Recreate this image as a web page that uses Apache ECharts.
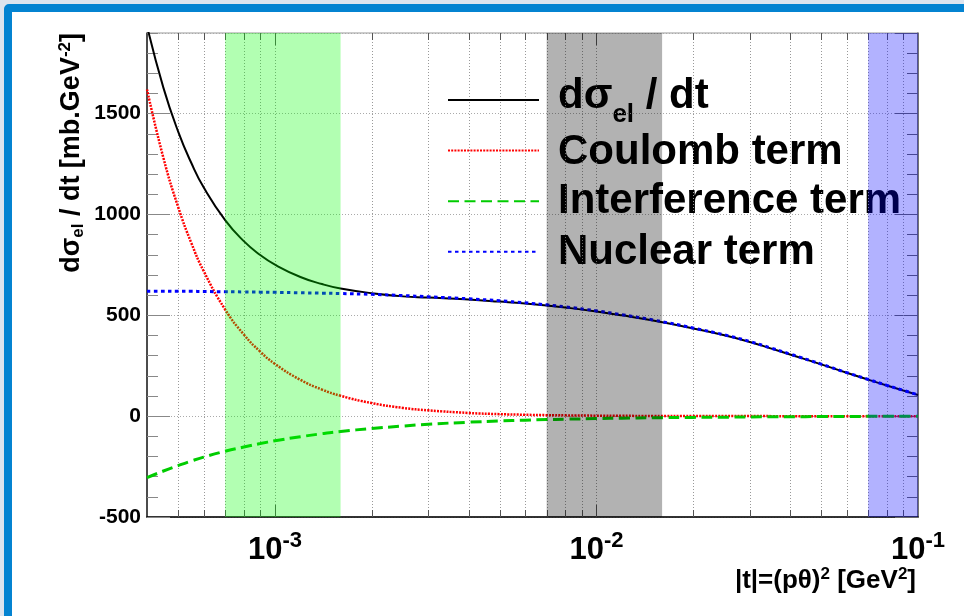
<!DOCTYPE html>
<html><head><meta charset="utf-8">
<script src="https://cdn.jsdelivr.net/npm/echarts@6/dist/echarts.min.js"></script>
<style>
html,body{margin:0;padding:0;width:964px;height:616px;overflow:hidden;background:#dde4ee;}
#frame{position:absolute;left:4px;top:4px;width:990px;height:640px;box-sizing:border-box;border:8px solid #0483d1;border-radius:5px;background:#fff;}
#chart{position:absolute;left:0;top:0;width:964px;height:616px;}
</style></head><body>
<div id="frame"></div><div id="chart"></div>
<script>
// |t| values (GeV^2)
const tValues = [4e-4, 4.5e-4, 5e-4, 5.5e-4, 6e-4, 7e-4, 8e-4, 9e-4, 1e-3, 1.2e-3, 1.4e-3, 1.6e-3,
  2e-3, 2.5e-3, 3e-3, 4e-3, 5e-3, 6e-3, 7e-3, 8e-3, 1e-2, 1.2e-2, 1.5e-2, 2e-2, 2.5e-2, 3e-2,
  3.5e-2, 4e-2, 5e-2, 6e-2, 7e-2, 8e-2, 9e-2, 1e-1];
const totalValues = [1935, 1628, 1411, 1254, 1135, 972, 868, 799, 751, 690, 655, 633,
  610, 594, 588, 578, 568, 559, 549, 539, 519, 500, 474, 435, 401, 368,
  335, 306, 257, 215, 181, 152, 127, 105];
const coulombValues = [1620, 1280, 1037, 857, 720, 529, 405, 320, 259, 180, 132, 101,
  65, 41, 29, 16, 10, 7, 5, 4, 2.5, 1.7, 1.1, 0.6, 0.4, 0.3,
  0.2, 0.1, 0.1, 0, 0, 0, 0, 0];
const interferenceValues = [-305, -272, -245, -222, -203, -174, -153, -136, -122, -102, -87, -76,
  -61, -49, -40, -30, -24, -20, -17, -15, -12, -10, -8, -6, -5, -4,
  -3, -3, -2, -2, -1, -1, -1, -1];
const nuclearValues = [620, 620, 619, 619, 618, 617, 616, 615, 614, 612, 610, 608,
  604, 598, 592, 582, 572, 562, 552, 542, 522, 503, 477, 437, 403, 370,
  337, 308, 258, 216, 182, 153, 128, 106];
const seriesNames = ['dσel / dt', 'Coulomb term', 'Interference term', 'Nuclear term'];
// legend label pieces: [text, kind] kind: 'n' normal, 'sub', 'sup'
const legendLabels = [
  [['dσ', 'n'], ['el', 'sub'], [' / dt', 'n']],
  [['Coulomb term', 'n']],
  [['Interference term', 'n']],
  [['Nuclear term', 'n']]
];
const yTitlePieces = [['dσ', 'n'], ['el', 'sub'], [' / dt [mb.GeV', 'n'], ['-2', 'sup'], [']', 'n']];
const xTitlePieces = [['|t|=(pθ)', 'n'], ['2', 'sup'], [' [GeV', 'n'], ['2', 'sup'], [']', 'n']];
const seriesColors = ['#000000', '#ff0000', '#00cc00', '#0000ff'];
// x tick positions (log axis, every 1..9 x decade)
const xTickValues = [5e-4, 6e-4, 7e-4, 8e-4, 9e-4, 1e-3, 2e-3, 3e-3, 4e-3, 5e-3, 6e-3, 7e-3, 8e-3, 9e-3,
  1e-2, 2e-2, 3e-2, 4e-2, 5e-2, 6e-2, 7e-2, 8e-2, 9e-2];
const bandRanges = [[7e-4, 1.6e-3], [7e-3, 1.6e-2], [7e-2, 1.6e-1]];
const bandColors = ['rgba(0,255,0,0.3)', 'rgba(0,0,0,0.3)', 'rgba(0,0,255,0.3)'];
const yRange = [-500, 1900];
const xRange = [4e-4, 0.1];

const FONT = "'Liberation Sans', Arial, Helvetica, sans-serif";
const mctx = document.createElement('canvas').getContext('2d');
function textW(str, size) { mctx.font = 'bold ' + size + 'px ' + FONT; return mctx.measureText(str).width; }

// Build a sequence of text pieces (base / sub / sup) laid out left to right from x0, middle line y0.
function buildPieces(pieces, x0, y0, base, small, subDy, supDy) {
  const out = [];
  let x = x0;
  pieces.forEach(([txt, kind]) => {
    const size = kind === 'n' ? base : small;
    const dy = kind === 'sub' ? subDy : (kind === 'sup' ? supDy : 0);
    out.push({type: 'text', x: x, y: y0 + dy, silent: true,
      style: {text: txt, font: 'bold ' + size + 'px ' + FONT, fill: '#000', align: 'left', verticalAlign: 'middle'}});
    x += textW(txt, size);
  });
  return {children: out, width: x - x0};
}
function piecesWidth(pieces, base, small) {
  return pieces.reduce((s, [t, k]) => s + textW(t, k === 'n' ? base : small), 0);
}

const chart = echarts.init(document.getElementById('chart'), null, {renderer: 'canvas'});
const pairs = arr => tValues.map((t, i) => [t, arr[i]]);
const lineTypes = ['solid', [2, 1.2], [11, 5.5], [3.5, 3.5]];
const lineWidths = [2, 2.5, 3, 3];
const seriesData = [totalValues, coulombValues, interferenceValues, nuclearValues];

const gridRect = {left: 147, right: 46, top: 33, bottom: 99};

const curveSeries = seriesNames.map((n, i) => ({
  name: n, type: 'line', data: pairs(seriesData[i]), smooth: true, symbol: 'none',
  clip: true, z: 3,
  lineStyle: {color: seriesColors[i], width: lineWidths[i], type: lineTypes[i]},
  itemStyle: {color: seriesColors[i]}
}));

// legend labels (graphic text, aligned with legend rows)
const legendTop = 93, legendItemH = 14, legendGap = 38;
const legendTextY = [96, 152, 201.5, 252.5];
const legendGraphics = [];
legendLabels.forEach((pcs, i) => {
  const g = buildPieces(pcs, 558, legendTextY[i], 42, 26, 19, -10);
  legendGraphics.push(...g.children);
});
// y title (rotated group)
const yW = piecesWidth(yTitlePieces, 27, 17);
const yTitle = buildPieces(yTitlePieces, -yW, 0, 27, 17, 6, -7);
// x title
const xW = piecesWidth(xTitlePieces, 26, 17);
const xTitle = buildPieces(xTitlePieces, 916 - xW, 581, 26, 17, 6, -7);

const yCommon = {type: 'value', min: yRange[0], max: yRange[1], gridIndex: 0};

const option = {
  animation: false,
  backgroundColor: 'transparent',
  grid: Object.assign({show: true, borderColor: '#999', borderWidth: 1, backgroundColor: 'transparent'}, gridRect),
  legend: {
    orient: 'vertical', left: 447, top: legendTop, padding: 0, itemGap: legendGap,
    itemWidth: 91, itemHeight: legendItemH, selectedMode: false,
    itemStyle: {opacity: 0},
    data: seriesNames,
    formatter: () => ''
  },
  xAxis: [{
    type: 'log', logBase: 10, min: xRange[0], max: xRange[1], position: 'bottom',
    axisLine: {show: true, onZero: false, lineStyle: {color: '#000', width: 1.5}},
    axisTick: {show: false}, splitLine: {show: false}, minorTick: {show: false},
    axisLabel: {
      show: true, margin: 18, showMinLabel: false,
      formatter: v => {
        const l = Math.log10(v); const e = Math.round(l);
        if (Math.abs(l - e) > 1e-6) return '';
        return '{b|10}{s|' + e + '}';
      },
      rich: {
        b: {fontFamily: FONT, fontWeight: 'bold', fontSize: 31, lineHeight: 31, color: '#000'},
        s: {fontFamily: FONT, fontWeight: 'bold', fontSize: 22, lineHeight: 22, padding: [0, 0, 20, 0], color: '#000'}
      }
    }
  }],
  yAxis: [
    Object.assign({}, yCommon, {
      position: 'left', interval: 500,
      axisLine: {show: true, onZero: false, lineStyle: {color: '#222', width: 1.5}},
      axisTick: {show: true, inside: true, length: 23, lineStyle: {color: '#888', width: 1}},
      axisLabel: {show: true, margin: 6, showMaxLabel: false, fontFamily: FONT, fontWeight: 'bold', fontSize: 21, color: '#000',
        formatter: v => String(v)},
      splitLine: {show: true, lineStyle: {color: '#aaa', width: 1, type: [1, 2]}}
    }),
    Object.assign({}, yCommon, {
      position: 'left', interval: 100,
      axisLine: {show: false}, axisLabel: {show: false}, splitLine: {show: false},
      axisTick: {show: true, inside: true, length: 11, lineStyle: {color: '#888', width: 1}}
    }),
    Object.assign({}, yCommon, {
      position: 'right', interval: 500,
      axisLine: {show: true, onZero: false, lineStyle: {color: '#555', width: 1.5}}, axisLabel: {show: false}, splitLine: {show: false},
      axisTick: {show: true, inside: true, length: 23, lineStyle: {color: '#666', width: 1}}
    }),
    Object.assign({}, yCommon, {
      position: 'right', interval: 100,
      axisLine: {show: false}, axisLabel: {show: false}, splitLine: {show: false},
      axisTick: {show: true, inside: true, length: 11, lineStyle: {color: '#666', width: 1}}
    })
  ],
  graphic: [
    {type: 'group', x: 72, y: 33, rotation: Math.PI / 2, z: 5, children: yTitle.children},
    {type: 'group', z: 5, children: xTitle.children},
    {type: 'group', z: 5, children: legendGraphics}
  ],
  series: [
    {
      name: 'xticks', type: 'custom', coordinateSystem: 'cartesian2d', silent: true, z: 1,
      data: xTickValues.map(v => [v, 0]),
      renderItem: (params, api) => {
        const v = api.value(0);
        const x = Math.round(api.coord([v, 0])[0]) + 0.5;
        const cs = params.coordSys;
        const top = cs.y, bot = cs.y + cs.height;
        const l = Math.log10(v);
        const major = Math.abs(l - Math.round(l)) < 1e-6;
        const len = major ? 12 : 7;
        return {type: 'group', children: [
          {type: 'line', shape: {x1: x, y1: top, x2: x, y2: bot}, style: {stroke: '#999', lineWidth: 1, lineDash: [1, 2]}},
          {type: 'line', shape: {x1: x, y1: bot, x2: x, y2: bot - len}, style: {stroke: '#555', lineWidth: 1}},
          {type: 'line', shape: {x1: x, y1: top, x2: x, y2: top + len}, style: {stroke: '#555', lineWidth: 1}}
        ]};
      }
    },
    ...curveSeries,
    {
      name: 'bands', type: 'custom', coordinateSystem: 'cartesian2d', silent: true, z: 10,
      data: bandRanges.map((r, i) => [r[0], 0, r[1], i]),
      encode: {x: [0, 2], y: 1},
      renderItem: (params, api) => {
        const x0 = api.coord([api.value(0), 0])[0];
        const x1 = api.coord([api.value(2), 0])[0];
        const cs = params.coordSys;
        const shape = echarts.graphic.clipRectByRect(
          {x: x0, y: cs.y, width: x1 - x0, height: cs.height},
          {x: cs.x, y: cs.y, width: cs.width, height: cs.height});
        if (!shape) return null;
        return {type: 'rect', shape: shape, style: {fill: bandColors[api.value(3)]}};
      }
    }
  ]
};
chart.setOption(option);
</script>
</body></html>
